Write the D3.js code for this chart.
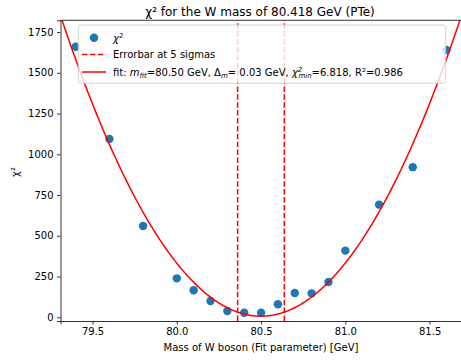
<!DOCTYPE html>
<html>
<head>
<meta charset="utf-8">
<script src="https://cdn.jsdelivr.net/npm/d3@7"></script>
<style>
body{margin:0;background:#fff;}
text{font-family:"DejaVu Sans",sans-serif;}
</style>
</head>
<body>
<svg id="c" width="461" height="364"></svg>
<script>
const massValues = [79.4, 79.6, 79.8, 80.0, 80.1, 80.2, 80.3, 80.4, 80.5, 80.6, 80.7, 80.8, 80.9, 81.0, 81.2, 81.4, 81.6];
const chi2Values = [1660, 1094, 560, 239, 166, 100, 39, 28, 28, 80, 149, 147, 217, 409, 691, 921, 1640];
const xTicks = [79.5, 80.0, 80.5, 81.0, 81.5];
const yTicks = [0, 250, 500, 750, 1000, 1250, 1500, 1750];
const fitParams = {mFit: 80.4995, delta: 0.0277, chi2Min: 6.818};
const nSigma = 5;

const svg = d3.select("#c");
const m = {left: 60.5, top: 20.3, right: 465, bottom: 321};
const x = d3.scaleLinear().domain([79.31, 81.71]).range([m.left, m.right]);
const y = d3.scaleLinear().domain([-22.7, 1822]).range([m.bottom, m.top]);

svg.append("defs").append("clipPath").attr("id","clip")
  .append("rect").attr("x", m.left).attr("y", m.top).attr("width", m.right-m.left).attr("height", m.bottom-m.top);

const g = svg.append("g").attr("clip-path","url(#clip)");

// data points
g.selectAll("circle.pt").data(massValues).enter().append("circle")
  .attr("cx", (d)=>x(d)).attr("cy", (d,i)=>y(chi2Values[i])).attr("r", 4.2)
  .attr("fill", "#1f77b4");

// error bar lines
[fitParams.mFit - nSigma*fitParams.delta, fitParams.mFit + nSigma*fitParams.delta].forEach(v=>{
  g.append("line").attr("x1", x(v)).attr("x2", x(v)).attr("y1", m.bottom).attr("y2", m.top)
   .attr("stroke","red").attr("stroke-width",1.5).attr("stroke-dasharray","5.5,2.4");
});

// fit curve (model from fit parameters)
const xs = d3.range(0, 401).map(i => 79.31 + i*(81.71-79.31)/400);
const fitFn = v => fitParams.chi2Min + Math.pow((v - fitParams.mFit)/fitParams.delta, 2);
g.append("path").datum(xs)
  .attr("d", d3.line().x(d=>x(d)).y(d=>y(fitFn(d))))
  .attr("fill","none").attr("stroke","red").attr("stroke-width",1.5);

// axes
const xAxis = svg.append("g").attr("transform",`translate(0,${m.bottom})`)
  .call(d3.axisBottom(x).tickValues(xTicks).tickFormat(d3.format(".1f")).tickSizeOuter(0).tickSize(3.5).tickPadding(3.5));
const yAxis = svg.append("g").attr("transform",`translate(${m.left},0)`)
  .call(d3.axisLeft(y).tickValues(yTicks).tickFormat(d3.format("d")).tickSizeOuter(0).tickSize(3.5).tickPadding(3.5));
[xAxis, yAxis].forEach(a=>{
  a.selectAll("text").attr("font-size", 10).attr("fill","#000").attr("font-family","DejaVu Sans");
  a.selectAll("line").attr("stroke","#000").attr("stroke-width",0.8);
  a.select(".domain").attr("stroke","#000").attr("stroke-width",0.8);
});
// top spine
svg.append("line").attr("x1", m.left).attr("x2", 461).attr("y1", m.top).attr("y2", m.top)
  .attr("stroke","#000").attr("stroke-width",0.8);

// legend
const lg = svg.append("g");
lg.append("rect").attr("x",78.3).attr("y",25).attr("width",367.4).attr("height",58.3)
  .attr("rx",2.5).attr("fill","white").attr("fill-opacity",0.8).attr("stroke","#cccccc").attr("stroke-width",0.8);
lg.append("circle").attr("cx",94).attr("cy",37.7).attr("r",4.2).attr("fill","#1f77b4");
lg.append("line").attr("x1",82).attr("x2",106).attr("y1",54.5).attr("y2",54.5)
  .attr("stroke","red").attr("stroke-width",1.5).attr("stroke-dasharray","5.5,2.4");
lg.append("line").attr("x1",82).attr("x2",106).attr("y1",72).attr("y2",72)
  .attr("stroke","red").attr("stroke-width",1.5);
const t1 = lg.append("text").attr("x",113).attr("y",41.5).attr("font-size",10);
t1.append("tspan").attr("font-style","italic").text("χ");
t1.append("tspan").attr("font-size",7).attr("dy",-4).text("2");
lg.append("text").attr("x",113).attr("y",58).attr("font-size",10).text("Errorbar at 5 sigmas");
const t3 = lg.append("text").attr("x",113).attr("y",75.5).attr("font-size",10);
t3.append("tspan").text("fit: ");
t3.append("tspan").attr("font-style","italic").text("m");
t3.append("tspan").attr("font-style","italic").attr("font-size",7).attr("dy",2).text("fit");
t3.append("tspan").attr("dy",-2).text("=80.50 GeV, Δ");
t3.append("tspan").attr("font-style","italic").attr("font-size",7).attr("dy",2).text("m");
t3.append("tspan").attr("dy",-2).text("= 0.03 GeV, ");
t3.append("tspan").attr("font-style","italic").text("χ");
t3.append("tspan").attr("font-style","italic").attr("font-size",7).attr("dy",-4).text("2");
t3.append("tspan").attr("font-style","italic").attr("font-size",7).attr("dx",-3.9).attr("dy",6).text("min");
t3.append("tspan").attr("dy",-2).text("=6.818, R²=0.986");

// title and labels
svg.append("text").attr("x",260).attr("y",15.5).attr("text-anchor","middle").attr("font-size",12).text("χ² for the W mass of 80.418 GeV (PTe)");
svg.append("text").attr("x",261).attr("y",350.5).attr("text-anchor","middle").attr("font-size",10).text("Mass of W boson (Fit parameter) [GeV]");
svg.append("text").attr("transform","translate(19,172) rotate(-90)").attr("text-anchor","middle").attr("font-size",10).text("χ²");
</script>
</body>
</html>
